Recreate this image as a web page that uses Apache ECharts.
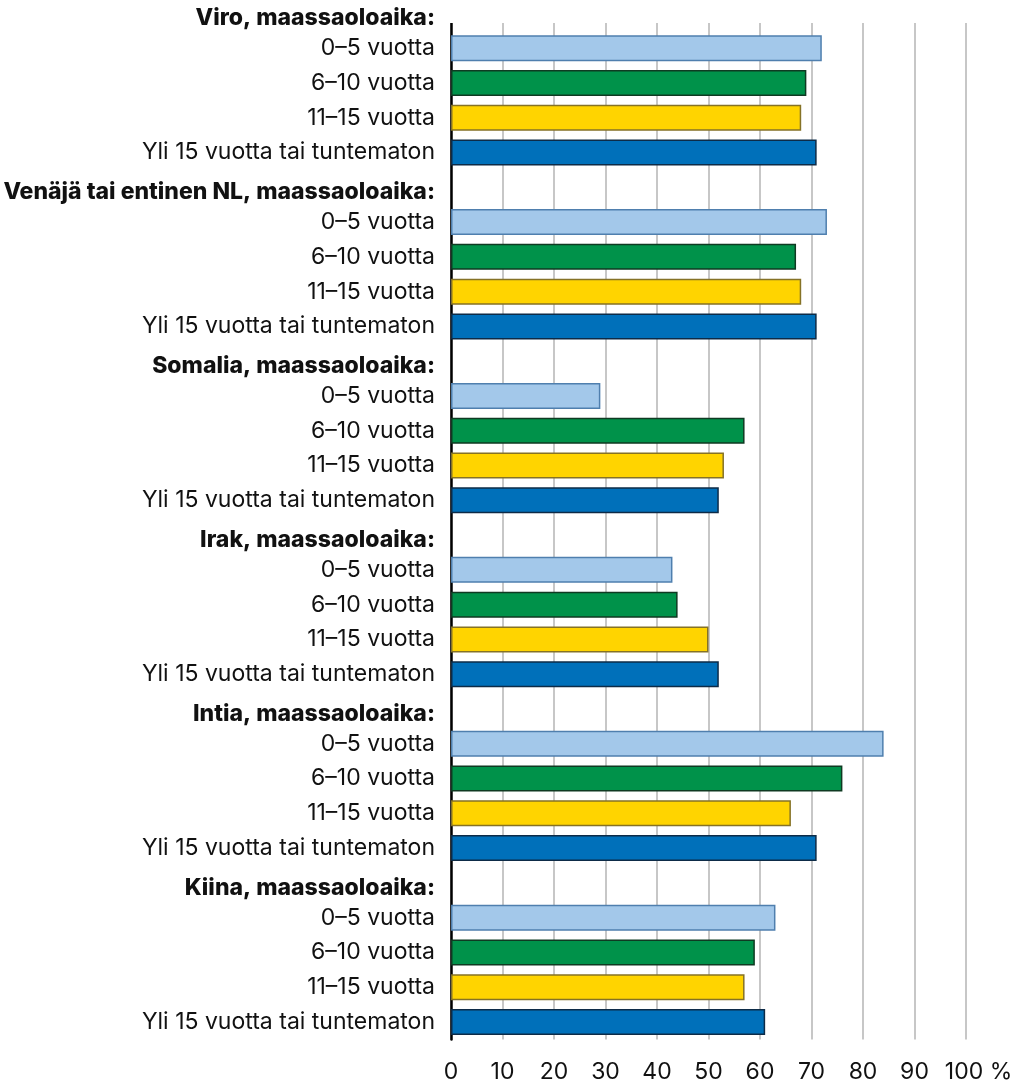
<!DOCTYPE html>
<html>
<head>
<meta charset="utf-8">
<script src="https://cdn.jsdelivr.net/npm/echarts@6/dist/echarts.min.js"></script>
<style>
  html, body { margin: 0; padding: 0; background: #fff; }
  #chart { width: 1012px; height: 1084px; }
</style>
</head>
<body>
<div id="chart"></div>
<script>
// Group headings (country of origin) and the length-of-stay rows under each
const groups = [
  'Viro, maassaoloaika:',
  'Venäjä tai entinen NL, maassaoloaika:',
  'Somalia, maassaoloaika:',
  'Irak, maassaoloaika:',
  'Intia, maassaoloaika:',
  'Kiina, maassaoloaika:'
];
const stayRows = ['0–5 vuotta', '6–10 vuotta', '11–15 vuotta', 'Yli 15 vuotta tai tuntematon'];

// Share (%) per group, in the order of stayRows
const viro    = [72, 69, 68, 71];
const venaja  = [73, 67, 68, 71];
const somalia = [29, 57, 53, 52];
const irak    = [43, 44, 50, 52];
const intia   = [84, 76, 66, 71];
const kiina   = [63, 59, 57, 61];
const groupValues = [viro, venaja, somalia, irak, intia, kiina];

const xTicks = [0, 10, 20, 30, 40, 50, 60, 70, 80, 90, 100];

// Fill and outline for each length-of-stay row
const fills   = ['#a3c8ea', '#00924a', '#ffd400', '#0070ba'];
const strokes = ['#4f7fae', '#0f3a22', '#857226', '#0d2b47'];

const categories = [];
const isHeader = [];
const barData = [];
groups.forEach((g, gi) => {
  categories.push(g);
  isHeader.push(true);
  barData.push('-');
  stayRows.forEach((r, ri) => {
    categories.push(r);
    isHeader.push(false);
    barData.push({
      value: groupValues[gi][ri],
      itemStyle: { color: fills[ri], borderColor: strokes[ri], borderWidth: 1.5 }
    });
  });
});

const FONT = 'Inter, Roboto, sans-serif';
const chart = echarts.init(document.getElementById('chart'), null, { renderer: 'canvas' });

chart.setOption({
  animation: false,
  backgroundColor: '#ffffff',
  grid: {
    left: 451, right: 46, top: -4, bottom: 44.6,
    containLabel: false,
    outerBoundsMode: 'none'
  },
  xAxis: {
    type: 'value',
    min: xTicks[0],
    max: xTicks[xTicks.length - 1],
    interval: 10,
    axisLine: { show: false },
    axisTick: { show: false },
    splitLine: { show: true, lineStyle: { color: '#b4b4b4', width: 1.5 } },
    axisLabel: {
      margin: 21,
      color: '#111',
      fontFamily: FONT,
      fontSize: 23,
      // the number stays centred on its grid line, the unit hangs to the right
      formatter: v => v === 100 ? '{u|100}{p| %}' : '{n|' + v + '}',
      rich: {
        n: { fontFamily: FONT, fontSize: 23, color: '#111' },
        u: { fontFamily: FONT, fontSize: 23, color: '#111', padding: [0, 0, 0, 25] },
        p: { fontFamily: FONT, fontSize: 23, color: '#111' }
      }
    }
  },
  yAxis: {
    type: 'category',
    inverse: true,
    data: categories,
    axisLine: { show: true, lineStyle: { color: '#000', width: 2.5 } },
    axisTick: { show: false },
    axisLabel: {
      margin: 16,
      color: '#111',
      fontFamily: FONT,
      fontSize: 23,
      formatter: (v, i) => isHeader[i] ? '{h|' + v + '}' : '{r|' + v + '}',
      rich: {
        h: { fontFamily: FONT, fontSize: 23, fontWeight: 800, color: '#111', padding: [10, 0, 0, 0] },
        r: { fontFamily: FONT, fontSize: 23, color: '#111' }
      }
    }
  },
  graphic: [{
    // keeps the plot frame starting just below the first heading line
    type: 'rect',
    z: 100,
    shape: { x: 446, y: 0, width: 566, height: 23 },
    style: { fill: '#ffffff' }
  }],
  series: [{
    type: 'bar',
    data: barData,
    barWidth: 26,
    silent: true
  }]
});
</script>
</body>
</html>
